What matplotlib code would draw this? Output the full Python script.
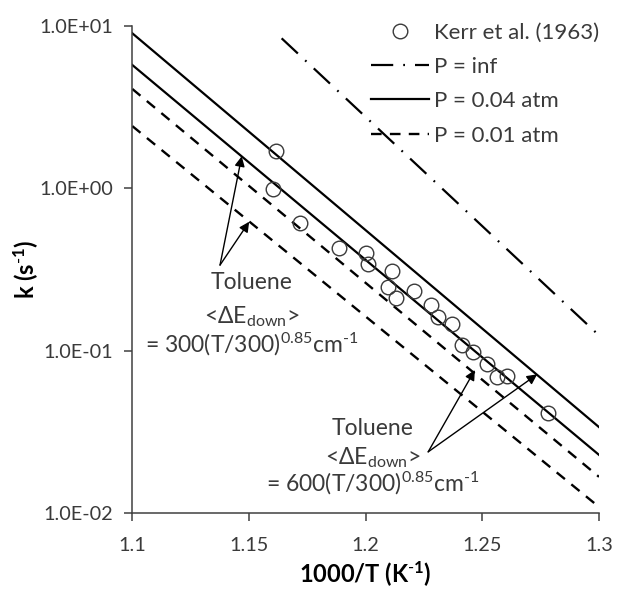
import numpy as np
import matplotlib
matplotlib.use("Agg")
import matplotlib.pyplot as plt

plt.rcParams['font.family'] = ['Lato', 'DejaVu Sans']
plt.rcParams['mathtext.fontset'] = 'custom'
plt.rcParams['mathtext.rm'] = 'Lato'
plt.rcParams['mathtext.it'] = 'Lato:italic'
plt.rcParams['mathtext.bf'] = 'Lato:bold'

# Kerr et al. (1963) measurements
kerr_x = [1.1617, 1.1602, 1.1717, 1.1885, 1.2000, 1.2010, 1.2115, 1.2096, 1.2206, 1.2129,
          1.2278, 1.2310, 1.2370, 1.2415, 1.2458, 1.2521, 1.2565, 1.2604, 1.2780]
kerr_k = [1.70, 0.99, 0.61, 0.43, 0.40, 0.34, 0.31, 0.245, 0.232, 0.212,
          0.190, 0.160, 0.146, 0.108, 0.098, 0.083, 0.069, 0.070, 0.041]

# model lines (Arrhenius, straight in log space)
line_x = [1.1, 1.3]
inf_x = [1.164, 1.3]
k_inf = [8.36, 0.124]
k_004_600 = [8.98, 0.0338]   # P = 0.04 atm, <dE> = 600
k_004_300 = [5.73, 0.0228]   # P = 0.04 atm, <dE> = 300
k_001_600 = [4.08, 0.0167]   # P = 0.01 atm, <dE> = 600
k_001_300 = [2.41, 0.0109]   # P = 0.01 atm, <dE> = 300

xticks = [1.1, 1.15, 1.2, 1.25, 1.3]
xticklabels = ['1.1', '1.15', '1.2', '1.25', '1.3']
yticks = [1e-2, 1e-1, 1e0, 1e1]
yticklabels = ['1.0E-02', '1.0E-01', '1.0E+00', '1.0E+01']

txt = '#3a3a3a'
fig = plt.figure(figsize=(6.19, 5.89), dpi=100)
ax = fig.add_axes([0.2137, 0.129, 0.754, 0.8274])

ax.plot(kerr_x, kerr_k, 'o', ms=10.5, mfc='none', mec='#3a3a3a', mew=1.0,
        label='Kerr et al. (1963)', zorder=3)
ax.plot(inf_x, k_inf, color='black', lw=1.6, ls=(0, (10, 4.5, 0.8, 4.5)), label='P = inf')
ax.plot(line_x, k_004_600, color='black', lw=1.6, label='P = 0.04 atm')
ax.plot(line_x, k_004_300, color='black', lw=1.6)
ax.plot(line_x, k_001_600, color='black', lw=1.7, ls=(0, (4.5, 3.5)), label='P = 0.01 atm')
ax.plot(line_x, k_001_300, color='black', lw=1.7, ls=(0, (4.5, 3.5)))

ax.set_yscale('log')
ax.set_xlim(1.1, 1.3)
ax.set_ylim(1e-2, 1e1)
ax.set_xticks(xticks)
ax.set_xticklabels(xticklabels)
ax.set_yticks(yticks)
ax.set_yticklabels(yticklabels)
ax.minorticks_off()
ax.tick_params(labelsize=14.3, colors='#404040', labelcolor=txt, length=6, width=1.1,
               direction='out', pad=8)
ax.tick_params(axis='x', pad=11)
for s in ['top', 'right']:
    ax.spines[s].set_visible(False)
for s in ['left', 'bottom']:
    ax.spines[s].set_color('#404040')
    ax.spines[s].set_linewidth(1.1)

ax.set_xlabel(r'1000/T (K$^{\mathbf{\text{-}1}}$)', fontsize=17, fontweight='bold', va='center')
ax.set_ylabel(r'k (s$^{\mathbf{\text{-}1}}$)', fontsize=17, fontweight='bold')
ax.xaxis.set_label_coords(0.5, -0.1252)
ax.yaxis.set_label_coords(-0.1978, 0.5)

ax.legend(loc='upper right', frameon=False, fontsize=16, handlelength=2.6,
          handletextpad=0.25, labelspacing=0.65, borderaxespad=0.0,
          bbox_to_anchor=(1.02, 1.025), labelcolor=txt)

# annotations
lines300 = ['Toluene', r'<$\Delta$E$_{\rm down}$>', r'= 300(T/300)$^{0.85}$cm$^{\text{-}1}$']
lines600 = ['Toluene', r'<$\Delta$E$_{\rm down}$>', r'= 600(T/300)$^{0.85}$cm$^{\text{-}1}$']
for s, yy in zip(lines300, [0.4723, 0.4025, 0.3451]):
    ax.text(0.2565, yy, s, ha='center', va='center', fontsize=16.5, color=txt,
            transform=ax.transAxes)
for s, yy in zip(lines600, [0.1744, 0.1129, 0.0616]):
    ax.text(0.5157, yy, s, ha='center', va='center', fontsize=16.5, color=txt,
            transform=ax.transAxes)

arrow = dict(arrowstyle='-|>', color='black', lw=1.0, mutation_scale=15, shrinkA=0, shrinkB=0)
ax.annotate('', xy=(1.1469, 1.57), xytext=(1.1376, 0.336), arrowprops=arrow)
ax.annotate('', xy=(1.1501, 0.621), xytext=(1.1376, 0.336), arrowprops=arrow)
ax.annotate('', xy=(1.2468, 0.0759), xytext=(1.2268, 0.0238), arrowprops=arrow)
ax.annotate('', xy=(1.2735, 0.0714), xytext=(1.2268, 0.0238), arrowprops=arrow)

fig.savefig('out.png', dpi=100)
